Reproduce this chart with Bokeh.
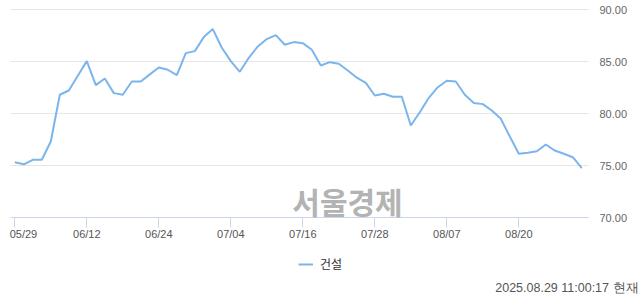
from bokeh.plotting import figure
from bokeh.models import (Range1d, FixedTicker, PrintfTickFormatter, Label,
                          Legend, LegendItem)
from bokeh.embed import file_html
from bokeh.resources import INLINE

# Trading days (MM/DD) and index closing values for the construction sector
dates = [
    "05/29", "05/30", "06/02", "06/04", "06/05", "06/09", "06/10", "06/11", "06/12",
    "06/13", "06/16", "06/17", "06/18", "06/19", "06/20", "06/23", "06/24",
    "06/25", "06/26", "06/27", "06/30", "07/01", "07/02", "07/03", "07/04",
    "07/07", "07/08", "07/09", "07/10", "07/11", "07/14", "07/15", "07/16",
    "07/17", "07/18", "07/21", "07/22", "07/23", "07/24", "07/25", "07/28",
    "07/29", "07/30", "07/31", "08/01", "08/04", "08/05", "08/06", "08/07",
    "08/08", "08/11", "08/12", "08/13", "08/14", "08/18", "08/19", "08/20",
    "08/21", "08/22", "08/25", "08/26", "08/27", "08/28", "08/29",
]
values = [
    75.33, 75.13, 75.56, 75.56, 77.32, 81.82, 82.23, 83.65, 85.06,
    82.75, 83.39, 81.98, 81.82, 83.10, 83.10, 83.78, 84.45,
    84.23, 83.71, 85.83, 86.02, 87.37, 88.14, 86.35, 85.06,
    84.03, 85.38, 86.47, 87.18, 87.56, 86.63, 86.89, 86.79,
    86.15, 84.64, 84.96, 84.81, 84.16, 83.46, 82.97, 81.75,
    81.92, 81.63, 81.63, 78.86, 80.14, 81.53, 82.55, 83.17,
    83.10, 81.82, 81.02, 80.92, 80.31, 79.51, 77.80, 76.14,
    76.23, 76.39, 77.03, 76.45, 76.14, 75.81, 74.75,
]
x_tick_idx = [0, 8, 16, 24, 32, 40, 48, 56]
y_ticks = [70, 75, 80, 85, 90]
series_name = "건설"
stamp = "2025.08.29 11:00:17 현재"
watermark = "서울경제"

xs = list(range(len(values)))

# Plot area of the chart proper (in data units), inside a canvas-wide frame
X_LO, X_HI = -0.478, 63.74
Y_LO, Y_HI = y_ticks[0], y_ticks[-1]

p = figure(width=640, height=294, output_backend="svg", toolbar_location=None,
           x_range=Range1d(-1.589, 69.52), y_range=Range1d(62.596, 90.894),
           y_axis_location="right",
           min_border_left=0, min_border_right=0,
           min_border_top=0, min_border_bottom=0)
p.outline_line_color = None
p.background_fill_color = "white"
p.border_fill_color = "white"

# x axis: dates at fixed trading-day positions, drawn at the bottom of the plot area
xa = p.xaxis[0]
xa.fixed_location = Y_LO
xa.bounds = (X_LO, X_HI)
xa.ticker = FixedTicker(ticks=x_tick_idx)
labels = {i: dates[i] for i in x_tick_idx}
# first label is nudged right so it stays clear of the left edge
labels[x_tick_idx[0]] = "\u00a0" * 3 + dates[x_tick_idx[0]]
xa.major_label_overrides = labels
xa.axis_line_color = "#ccd6eb"
xa.major_tick_line_color = "#ccd6eb"
xa.major_tick_out = 10
xa.major_tick_in = 0
xa.minor_tick_line_color = None
xa.major_label_standoff = 0
xa.major_label_text_font = "Liberation Sans"
xa.major_label_text_font_size = "11px"
xa.major_label_text_color = "#555555"

# y axis on the right edge of the plot area, values only
ya = p.yaxis[0]
ya.fixed_location = X_HI
ya.ticker = FixedTicker(ticks=y_ticks)
ya.formatter = PrintfTickFormatter(format="%.2f")
ya.axis_line_color = None
ya.major_tick_line_color = None
ya.minor_tick_line_color = None
ya.major_tick_out = 0
ya.major_label_standoff = 11
ya.major_label_text_font = "Liberation Sans"
ya.major_label_text_font_size = "11px"
ya.major_label_text_color = "#666666"

p.xgrid.grid_line_color = None
p.ygrid.ticker = FixedTicker(ticks=y_ticks)
p.ygrid.cross_bounds = (X_LO, X_HI)
p.ygrid.grid_line_color = "#e6e6e6"

# watermark
p.add_layout(Label(x=347, y=94, x_units="screen", y_units="screen",
                   text=watermark, text_align="center", text_baseline="middle",
                   text_font="Noto Sans CJK KR", text_font_style="bold",
                   text_font_size="30px", text_color="#b3b3b3"))

line = p.line(xs, values, line_color="#7cb5ec", line_width=2)

legend = Legend(items=[LegendItem(label=series_name, renderers=[line])],
                location=(298, 22), orientation="horizontal",
                glyph_width=15, glyph_height=12, label_height=12,
                label_standoff=7, padding=0, margin=0,
                border_line_color=None, background_fill_alpha=0,
                label_text_font="Noto Sans CJK KR", label_text_font_size="12px",
                label_text_color="#333333")
p.add_layout(legend, "center")

p.add_layout(Label(x=638, y=7, x_units="screen", y_units="screen",
                   text=stamp, text_align="right", text_baseline="alphabetic",
                   text_font="Liberation Sans", text_font_size="12.5px",
                   text_color="#555555"))

open("out.html", "w").write(file_html(p, INLINE))
